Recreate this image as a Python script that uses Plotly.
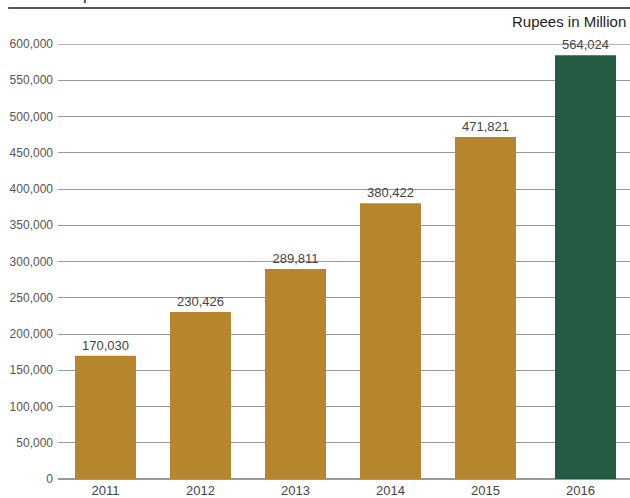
import plotly.graph_objects as go

years = ["2011", "2012", "2013", "2014", "2015", "2016"]
bar_values = [170030, 230426, 289811, 380422, 471821, 584500]
label_texts = ["170,030", "230,426", "289,811", "380,422", "471,821", "564,024"]
bar_colors = ["#B5862C", "#B5862C", "#B5862C", "#B5862C", "#B5862C", "#245C43"]
y_ticks = [0, 50000, 100000, 150000, 200000, 250000, 300000, 350000, 400000, 450000, 500000, 550000, 600000]

FONT = "Liberation Sans, Arial, Helvetica, sans-serif"
bar_w = 61 / 95
bar_offsets = [-bar_w / 2] * 5 + [-bar_w / 2 + 5 / 95]

fig = go.Figure(go.Bar(
    x=years, y=bar_values, marker=dict(color=bar_colors, line=dict(width=0)),
    width=bar_w, offset=bar_offsets,
    text=label_texts, textposition="outside", cliponaxis=False,
    textfont=dict(size=13, color="#444444", family=FONT),
))

fig.update_layout(
    width=630, height=498,
    margin=dict(l=58, r=0, t=44, b=19),
    paper_bgcolor="white", plot_bgcolor="white",
    showlegend=False,
    font=dict(family=FONT, color="#444444"),
    xaxis=dict(range=[-0.5, 5.521], showgrid=False, ticks="", showline=False,
               ticklabelstandoff=2, automargin=False,
               tickfont=dict(size=13, color="#444444")),
    yaxis=dict(range=[0, 600000], tickvals=y_ticks,
               ticktext=[f"{v:,}" for v in y_ticks], automargin=False,
               showgrid=True, gridcolor="#999999", gridwidth=1,
               zeroline=True, zerolinecolor="#999999", zerolinewidth=1.5,
               ticks="", ticklabelstandoff=4,
               tickfont=dict(size=12, color="#555555")),
    shapes=[
        dict(type="line", xref="paper", yref="y", x0=0, x1=1, y0=600000, y1=600000,
             line=dict(color="#666666", width=1)),
        dict(type="line", xref="paper", yref="paper", x0=-0.087, x1=1.0, y0=1.0828, y1=1.0828,
             line=dict(color="#555555", width=2)),
        dict(type="line", xref="paper", yref="paper", x0=0.047, x1=0.047, y0=1.094, y1=1.102,
             line=dict(color="#7B3F8E", width=2)),
    ],
    annotations=[
        dict(text="Rupees in Million", xref="paper", yref="paper", x=0.9965, y=1.0506,
             xanchor="right", yanchor="middle", showarrow=False,
             font=dict(size=15, color="#222222")),
    ],
)

fig.write_html("out.html")
